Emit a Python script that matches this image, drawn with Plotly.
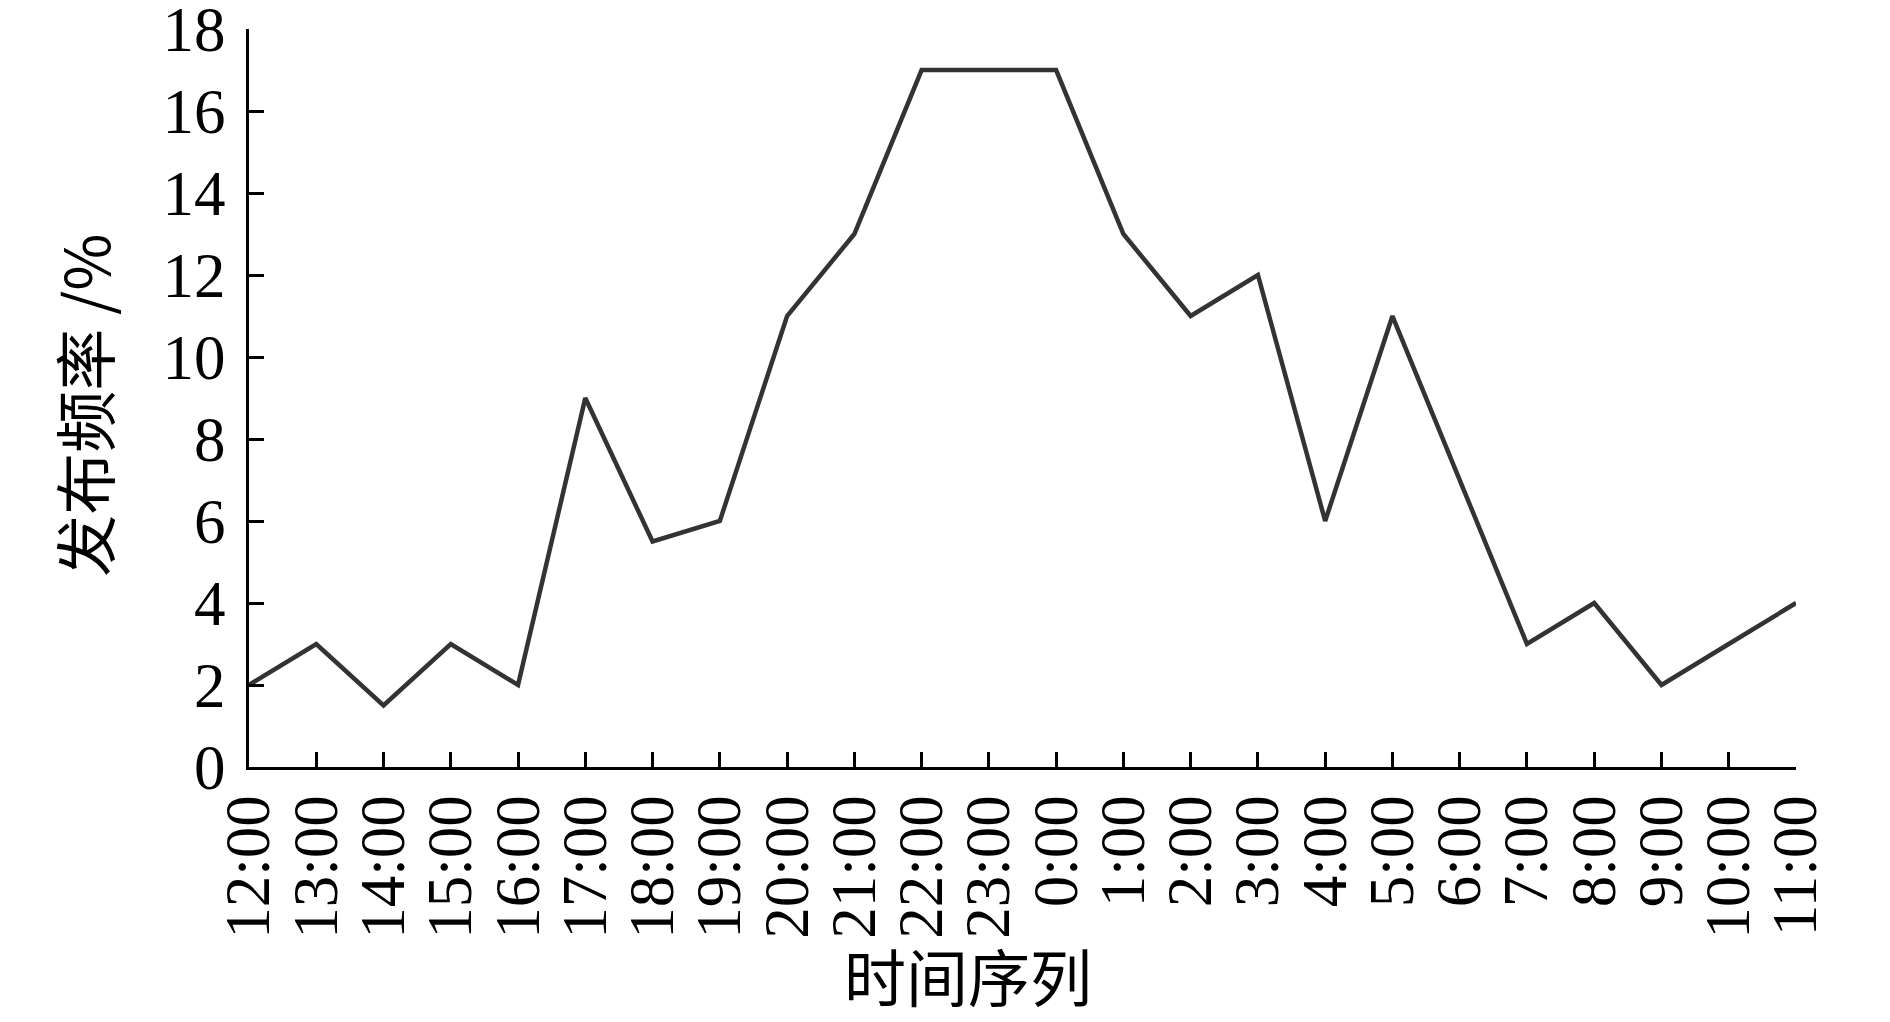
import plotly.graph_objects as go

# hourly posting frequency, 12:00 through 11:00 next day
hours = ["12:00", "13:00", "14:00", "15:00", "16:00", "17:00", "18:00", "19:00",
         "20:00", "21:00", "22:00", "23:00", "0:00", "1:00", "2:00", "3:00",
         "4:00", "5:00", "6:00", "7:00", "8:00", "9:00", "10:00", "11:00"]
freq = [2, 3, 1.5, 3, 2, 9, 5.5, 6, 11, 13, 17, 17, 17, 13, 11, 12,
        6, 11, 7, 3, 4, 2, 3, 4]
y_ticks = [0, 2, 4, 6, 8, 10, 12, 14, 16, 18]

font_main = "Liberation Serif, Times New Roman, Noto Sans CJK SC, serif"
font_cjk = "Noto Sans CJK SC, Liberation Serif"

fig = go.Figure()
fig.add_trace(go.Scatter(
    x=list(range(len(hours))), y=freq, mode="lines", showlegend=False,
    line=dict(color="#333333", width=4.5)
))

fig.update_xaxes(
    range=[0, len(hours) - 1], tickvals=list(range(len(hours))), ticktext=hours,
    tickangle=-90, showline=True, linecolor="black", linewidth=3,
    ticks="inside", ticklen=15, tickwidth=2.5, tickcolor="black",
    showgrid=False, zeroline=False, ticklabelstandoff=0, automargin=False,
    ticklabeloverflow="allow",
    tickfont=dict(family=font_main, size=63, color="black")
)
fig.update_yaxes(
    range=[0, 18.001], tickvals=y_ticks, showline=True, linecolor="black", linewidth=3,
    ticks="inside", ticklen=15, tickwidth=2.5, tickcolor="black",
    showgrid=False, zeroline=False, ticklabelstandoff=8, automargin=False,
    ticklabeloverflow="allow",
    tickfont=dict(family=font_main, size=63, color="black")
)

fig.add_annotation(
    text="发布频率 /%", xref="paper", yref="paper", x=-0.107, y=0.49,
    textangle=-90, showarrow=False, xanchor="center", yanchor="middle",
    font=dict(family=font_cjk, size=62, color="black")
)
fig.add_annotation(
    text="时间序列", xref="paper", yref="paper", x=0.465, y=-0.345,
    showarrow=False, xanchor="center", yanchor="bottom",
    font=dict(family=font_cjk, size=62, color="black")
)

# page body adds an 8px offset, so margins are shifted to keep the plot in place
fig.update_layout(
    width=1890, height=1022, plot_bgcolor="white", paper_bgcolor="white",
    margin=dict(l=241, r=102, t=21, b=263)
)

fig.write_html("out.html")
